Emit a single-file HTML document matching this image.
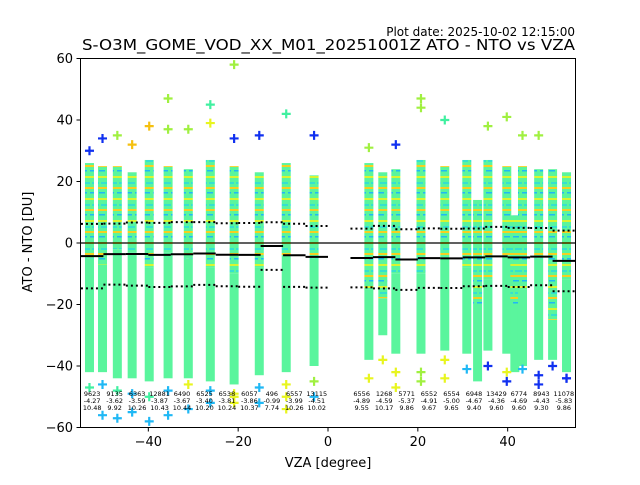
<!DOCTYPE html>
<html><head><meta charset="utf-8"><style>
body{margin:0;background:#fff}
svg text{font-family:"DejaVu Sans","Liberation Sans",sans-serif;fill:#000}
</style></head><body>
<svg id="chart" width="640" height="480" viewBox="0 0 640 480" xmlns="http://www.w3.org/2000/svg">
<defs>
<pattern id="stripe" width="9" height="22" patternUnits="userSpaceOnUse">
<rect width="9" height="22" fill="#5af59d"/>
<rect y="0" width="9" height="2" fill="#d8f530"/>
<rect x="2" y="6" width="7" height="2" fill="#35e0d0"/>
<rect y="11" width="9" height="2" fill="#f5d020"/>
<rect x="0" y="16" width="6" height="1.5" fill="#1fb8f5"/>
</pattern>
</defs>
<text x="575" y="36" font-size="12" text-anchor="end">Plot date: 2025-10-02 12:15:00</text>
<text x="82" y="50" font-size="15" textLength="493" lengthAdjust="spacingAndGlyphs">S-O3M_GOME_VOD_XX_M01_20251001Z ATO - NTO vs VZA</text>
<g id="plot"></g>
<rect x="80.5" y="58.5" width="495" height="369" fill="none" stroke="#000" stroke-width="1"/>
<g id="axes"></g>
<text x="328" y="467" font-size="13" text-anchor="middle">VZA [degree]</text>
<text transform="translate(32,242) rotate(-90)" font-size="13" text-anchor="middle">ATO - NTO [DU]</text>
</svg>
<script>
const colVza=[-53.1,-50.2,-46.9,-43.6,-39.8,-35.6,-31.1,-26.2,-20.9,-15.3,-9.3,-3.1,9.1,12.2,15.1,20.7,26,30.9,33.3,35.6,39.8,41.6,43.3,46.9,50,53.1];
const colTop=[26,25,25,23,27,25,24,27,25,23,26,22,26,23,24,27,25,27,14,27,25,9,25,24,24,23];
const colStripeLo=[-5,-7,-2,-3,-8,-3,-5,-8,-10,-8,-4,-5,-15,-18,-10,-10,-5,-8,-20,-12,-4,-20,-15,-5,-25,-12];
const colBottom=[-42,-42,-44,-44,-45,-44,-44,-45,-46,-43,-42,-40,-38,-30,-36,-36,-35,-36,-45,-35,-36,-42,-40,-38,-38,-42];
const outVza=[-53.1,-50.2,-46.9,-43.6,-39.8,-35.6,-35.6,-31.1,-26.2,-26.2,-20.9,-20.9,-15.3,-9.3,-3.1,9.1,15.1,20.7,20.7,26,35.6,39.8,43.3,46.9,-50.2,-46.9,-43.6,-39.8,-35.6,-31.1,-26.2,-20.9,-15.3,-9.3,-3.1,12.2,15.1,20.7,26,39.8,46.9,53.1,-20.9,-9.3,-53.1,-50.2,-46.9,-43.6,-39.8,-35.6,-31.1,-26.2,-20.9,-15.3,-9.3,-3.1,9.1,15.1,20.7,26,30.9,35.6,39.8,43.3,46.9,50,53.1];
const outVal=[30,34,35,32,38,47,37,37,45,39,58,34,35,42,35,31,32,47,44,40,38,41,35,35,-56,-57,-55,-58,-56,-54,-52,-52,-52,-54,-50,-38,-47,-42,-38,-45,-46,-44,-50,-50,-47,-46,-48,-49,-50,-48,-46,-48,-49,-47,-46,-45,-44,-42,-45,-44,-41,-40,-42,-41,-43,-40,-44];
const outColor=["#1030f0","#1030f0","#a0f040","#f5c010","#f5c010","#a0f040","#a0f040","#a0f040","#40f0a0","#e8f51f","#a0f040","#1030f0","#1030f0","#40f0a0","#1030f0","#a0f040","#1030f0","#a0f040","#a0f040","#40f0a0","#a0f040","#a0f040","#a0f040","#a0f040","#1fb8f5","#1fb8f5","#1fb8f5","#1fb8f5","#1fb8f5","#1fb8f5","#1fb8f5","#e8f51f","#1fb8f5","#e8f51f","#1fb8f5","#e8f51f","#e8f51f","#a0f040","#e8f51f","#1030f0","#1030f0","#1030f0","#e8f51f","#e8f51f","#40f0a0","#1fb8f5","#40f0a0","#1fb8f5","#40f0a0","#1fb8f5","#e8f51f","#1fb8f5","#e8f51f","#1fb8f5","#e8f51f","#a0f040","#e8f51f","#e8f51f","#a0f040","#e8f51f","#1fb8f5","#1030f0","#e8f51f","#1fb8f5","#1030f0","#1030f0","#1030f0"];
const binStart=[-55,-50,-45,-40,-35,-30,-25,-20,-15,-10,-5,5,10,15,20,25,30,35,40,45,50];
const binCount=[9623,9135,6363,12881,6490,6525,6538,6057,496,6557,13115,6556,1268,5771,6552,6554,6948,13429,6774,8943,11078];
const binMean=[-4.27,-3.62,-3.59,-3.87,-3.67,-3.40,-3.81,-3.86,-0.99,-3.99,-4.51,-4.89,-4.59,-5.37,-4.91,-5.00,-4.67,-4.36,-4.69,-4.43,-5.83];
const binStd=[10.48,9.92,10.26,10.43,10.44,10.20,10.24,10.37,7.74,10.26,10.02,9.55,10.17,9.86,9.67,9.65,9.40,9.60,9.60,9.30,9.86];
const xTicks=[-40,-20,0,20,40];
const yTicks=[-60,-40,-20,0,20,40,60];

const NS="http://www.w3.org/2000/svg";
const X0=-55.1,X1=55.1,PX0=80.5,PX1=575.5,Y0=-60,Y1=60,PY0=427.5,PY1=58.5;
const xs=v=>PX0+(v-X0)/(X1-X0)*(PX1-PX0);
const ys=v=>PY0+(v-Y0)/(Y1-Y0)*(PY1-PY0);
function mk(tag,attrs,parent){const e=document.createElementNS(NS,tag);for(const k in attrs)e.setAttribute(k,attrs[k]);parent.appendChild(e);return e;}
const plot=document.getElementById('plot');
const axes=document.getElementById('axes');
const clip=mk('clipPath',{id:'pc'},document.querySelector('defs'));
mk('rect',{x:80.5,y:58.5,width:495,height:369},clip);
plot.setAttribute('clip-path','url(#pc)');

colVza.forEach((v,i)=>{
  const g=mk('g',{},plot);
  
  
  const x=xs(v)-4.5;
  const r1=mk('rect',{x:x,y:ys(colTop[i]),width:9,height:ys(colStripeLo[i])-ys(colTop[i]),fill:'url(#stripe)'},g);
  
  
  const r2=mk('rect',{x:x,y:ys(colStripeLo[i]),width:9,height:ys(colBottom[i])-ys(colStripeLo[i]),fill:'#5af59d'},g);
  
  
});
outVza.forEach((v,i)=>{
  const cx=xs(v),cy=ys(outVal[i]);
  const p=mk('path',{d:`M${cx-4.5} ${cy}H${cx+4.5}M${cx} ${cy-4.5}V${cy+4.5}`,stroke:outColor[i],'stroke-width':2.2,fill:'none'},plot);
  
  
});
const z=mk('line',{x1:PX0,x2:PX1,y1:ys(0),y2:ys(0),stroke:'#000','stroke-width':1.2},plot);


binStart.forEach((b,i)=>{
  const xa=xs(b),xb=xs(b+5),m=binMean[i],s=binStd[i];
  const l=mk('line',{x1:xa,x2:xb,y1:ys(m),y2:ys(m),stroke:'#000','stroke-width':2},plot);
  
  
  [m+s,m-s].forEach(val=>{
    const d=mk('line',{x1:xa,x2:xb,y1:ys(val),y2:ys(val),stroke:'#000','stroke-width':2,'stroke-dasharray':'2,3'},plot);
    
    
  });
  const cx=xs(b+2.5);
  [binCount[i],binMean[i].toFixed(2),binStd[i].toFixed(2)].forEach((t,k)=>{
    const tx=mk('text',{x:cx,y:396+k*7,'font-size':6.5,'text-anchor':'middle',fill:'#222'},plot);
    tx.textContent=t;
    
    
  });
});
xTicks.forEach(t=>{
  const x=xs(t);
  const tk=mk('line',{x1:x,x2:x,y1:427.5,y2:431.5,stroke:'#000'},axes);
  
  
  const tx=mk('text',{x:x,y:446,'font-size':13,'text-anchor':'middle'},axes);
  tx.textContent=t<0?'\u2212'+(-t):t;
  
  
});
yTicks.forEach(t=>{
  const y=ys(t);
  const tk=mk('line',{x1:76.5,x2:80.5,y1:y,y2:y,stroke:'#000'},axes);
  
  
  const tx=mk('text',{x:73,y:y+4.5,'font-size':13,'text-anchor':'end'},axes);
  tx.textContent=t<0?'\u2212'+(-t):t;
  
  
});
</script>
</body></html>
